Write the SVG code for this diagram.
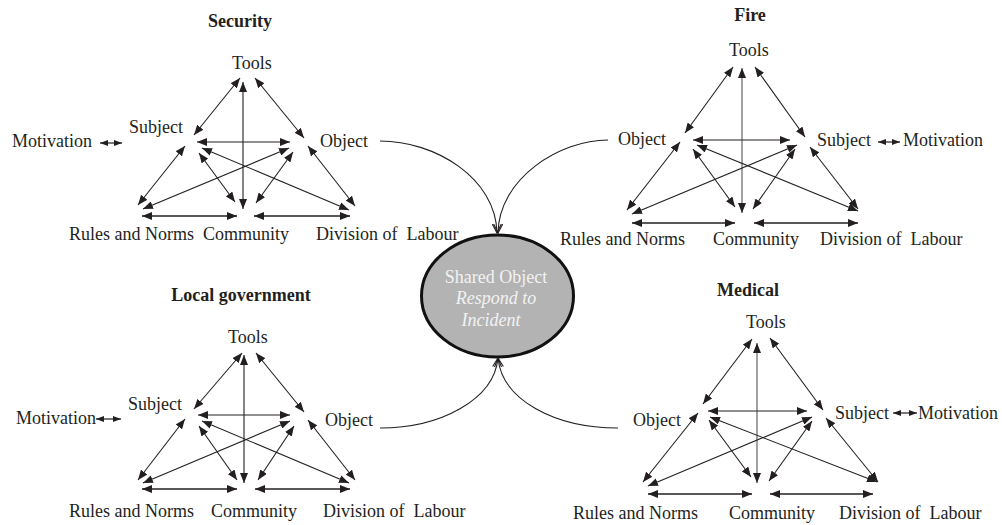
<svg xmlns="http://www.w3.org/2000/svg" width="1002" height="525" viewBox="0 0 1002 525">
<style>
text{font-family:"Liberation Serif","Times New Roman",serif;font-size:18px;fill:#231f20}
.title{font-weight:bold;text-anchor:middle}
.pre{white-space:pre}
.ln{stroke:#231f20;stroke-width:1.1;fill:none;marker-start:url(#ah);marker-end:url(#ah)}
.hz{stroke-width:1.5}
.gv{stroke:#555}
.mot{stroke:#231f20;stroke-width:1.2;fill:none;marker-start:url(#sh);marker-end:url(#sh)}
.cv{stroke:#231f20;stroke-width:1.1;fill:none;marker-end:url(#oh)}
.shared{fill:#f2f2f2;text-anchor:middle}
</style>
<defs>
<marker id="ah" viewBox="0 0 10 8" refX="10" refY="4" markerWidth="10" markerHeight="8" markerUnits="userSpaceOnUse" orient="auto-start-reverse">
<path d="M0,0 L10,4 L0,8 Z" fill="#231f20"/>
</marker>
<marker id="sh" viewBox="0 0 8 6" refX="8" refY="3" markerWidth="8" markerHeight="6" markerUnits="userSpaceOnUse" orient="auto-start-reverse">
<path d="M0,0 L8,3 L0,6 Z" fill="#231f20"/>
</marker>
<marker id="oh" viewBox="0 0 10 10" refX="9" refY="5" markerWidth="10" markerHeight="10" markerUnits="userSpaceOnUse" orient="auto">
<path d="M0,0.5 L9,5 L0,9.5" fill="none" stroke="#231f20" stroke-width="1.1"/>
</marker>
</defs>

<!-- Shared object -->
<g id="shared-object">
<ellipse cx="497.5" cy="296" rx="76" ry="61" fill="#b3b3b3" stroke="#111" stroke-width="3"/>
<text class="shared" x="496" y="283">Shared Object</text>
<text class="shared" x="496" y="304" font-style="italic">Respond to</text>
<text class="shared" x="491" y="326" font-style="italic">Incident</text>
</g>

<!-- Security -->
<g id="security">
<g id="sec-title"><text class="title" x="240" y="27">Security</text></g>
<g id="sec-tools"><text x="232" y="69">Tools</text></g>
<g id="sec-subject"><text x="129" y="133">Subject</text></g>
<g id="sec-motivation"><text x="12" y="147">Motivation</text></g>
<g id="sec-object"><text x="320" y="147">Object</text></g>
<g id="sec-rules"><text x="69" y="240">Rules and Norms</text></g>
<g id="sec-community"><text x="203" y="240">Community</text></g>
<g id="sec-division"><text class="pre" x="316" y="240">Division of  Labour</text></g>
</g>

<!-- Fire -->
<g id="fire">
<g id="fire-title"><text class="title" x="750" y="21">Fire</text></g>
<g id="fire-tools"><text x="729" y="56">Tools</text></g>
<g id="fire-object"><text x="618" y="145">Object</text></g>
<g id="fire-subject"><text x="817" y="146">Subject</text></g>
<g id="fire-motivation"><text x="903" y="146">Motivation</text></g>
<g id="fire-rules"><text x="560" y="245">Rules and Norms</text></g>
<g id="fire-community"><text x="713" y="245">Community</text></g>
<g id="fire-division"><text class="pre" x="820" y="245">Division of  Labour</text></g>
</g>

<!-- Local government -->
<g id="localgov">
<g id="lg-title"><text class="title" x="241" y="301">Local government</text></g>
<g id="lg-tools"><text x="228" y="343">Tools</text></g>
<g id="lg-subject"><text x="128" y="410">Subject</text></g>
<g id="lg-motivation"><text x="16" y="424">Motivation</text></g>
<g id="lg-object"><text x="325" y="426">Object</text></g>
<g id="lg-rules"><text x="69" y="517">Rules and Norms</text></g>
<g id="lg-community"><text x="211" y="517">Community</text></g>
<g id="lg-division"><text class="pre" x="323" y="517">Division of  Labour</text></g>
</g>

<!-- Medical -->
<g id="medical">
<g id="med-title"><text class="title" x="748" y="296">Medical</text></g>
<g id="med-tools"><text x="746" y="328">Tools</text></g>
<g id="med-object"><text x="633" y="426">Object</text></g>
<g id="med-subject"><text x="835" y="419">Subject</text></g>
<g id="med-motivation"><text x="918" y="419">Motivation</text></g>
<g id="med-rules"><text x="573" y="519">Rules and Norms</text></g>
<g id="med-community"><text x="729" y="519">Community</text></g>
<g id="med-division"><text class="pre" x="839" y="519">Division of  Labour</text></g>
</g>

<g id="connectors">
<g id="sec-connectors">
<line class="mot" x1="100" y1="143" x2="122" y2="143"/>
<line class="ln" x1="240" y1="78" x2="194" y2="135"/>
<line class="ln" x1="255" y1="78" x2="304" y2="138"/>
<line class="ln" x1="243" y1="82" x2="243" y2="209"/>
<line class="ln" x1="197" y1="142" x2="290" y2="142"/>
<line class="ln" x1="185" y1="146" x2="138" y2="205"/>
<line class="ln" x1="199" y1="153" x2="235" y2="202"/>
<line class="ln" x1="202" y1="148" x2="349" y2="210"/>
<line class="ln" x1="289" y1="148" x2="143" y2="209"/>
<line class="ln" x1="293" y1="152" x2="256" y2="203"/>
<line class="ln" x1="308" y1="146" x2="355" y2="206"/>
<line class="ln hz" x1="142" y1="216" x2="237" y2="216"/>
<line class="ln hz" x1="254" y1="216" x2="350" y2="216"/>
</g>
<g id="fire-connectors">
<line class="mot" x1="878" y1="142" x2="900" y2="142"/>
<line class="ln" x1="733" y1="67" x2="685" y2="133"/>
<line class="ln" x1="755" y1="67" x2="805" y2="137"/>
<line class="ln gv" x1="742" y1="68" x2="742" y2="213"/>
<line class="ln" x1="693" y1="140" x2="790" y2="140"/>
<line class="ln" x1="680" y1="142" x2="627" y2="210"/>
<line class="ln" x1="693" y1="149" x2="735" y2="207"/>
<line class="ln" x1="697" y1="145" x2="858" y2="211"/>
<line class="ln" x1="797" y1="145" x2="632" y2="214"/>
<line class="ln" x1="795" y1="149" x2="753" y2="209"/>
<line class="ln" x1="810" y1="147" x2="858" y2="209"/>
<line class="ln hz" x1="632" y1="223" x2="735" y2="223"/>
<line class="ln hz" x1="754" y1="223" x2="858" y2="223"/>
</g>
<g id="lg-connectors">
<line class="mot" x1="96" y1="419" x2="121" y2="419"/>
<line class="ln" x1="242" y1="353" x2="194" y2="409"/>
<line class="ln" x1="256" y1="353" x2="304" y2="412"/>
<line class="ln" x1="244" y1="355" x2="244" y2="483"/>
<line class="ln" x1="198" y1="415" x2="290" y2="415"/>
<line class="ln" x1="185" y1="419" x2="138" y2="480"/>
<line class="ln" x1="199" y1="426" x2="237" y2="480"/>
<line class="ln" x1="202" y1="421" x2="349" y2="483"/>
<line class="ln" x1="290" y1="421" x2="143" y2="483"/>
<line class="ln" x1="294" y1="426" x2="258" y2="480"/>
<line class="ln" x1="308" y1="420" x2="355" y2="480"/>
<line class="ln hz" x1="142" y1="489" x2="237" y2="489"/>
<line class="ln hz" x1="255" y1="489" x2="350" y2="489"/>
</g>
<g id="med-connectors">
<line class="mot" x1="893" y1="413" x2="917" y2="413"/>
<line class="ln" x1="752" y1="339" x2="703" y2="404"/>
<line class="ln" x1="770" y1="338" x2="823" y2="410"/>
<line class="ln gv" x1="757" y1="343" x2="757" y2="483"/>
<line class="ln" x1="708" y1="411" x2="807" y2="411"/>
<line class="ln" x1="698" y1="413" x2="643" y2="482"/>
<line class="ln" x1="709" y1="420" x2="751" y2="477"/>
<line class="ln" x1="710" y1="417" x2="877" y2="482"/>
<line class="ln" x1="812" y1="417" x2="648" y2="486"/>
<line class="ln" x1="812" y1="421" x2="769" y2="481"/>
<line class="ln" x1="826" y1="418" x2="878" y2="482"/>
<line class="ln hz" x1="648" y1="494" x2="752" y2="494"/>
<line class="ln hz" x1="770" y1="494" x2="873" y2="494"/>
</g>
<g id="shared-connectors">
<path class="cv" d="M380,141 C435,141 496,178 497,233"/>
<path class="cv" d="M608,140 C560,140 499,178 498,233"/>
<path class="cv" d="M380,428 C440,428 494,400 498,358"/>
<path class="cv" d="M618,428 C555,428 502,400 498,358"/>
</g>
</g>
</svg>
